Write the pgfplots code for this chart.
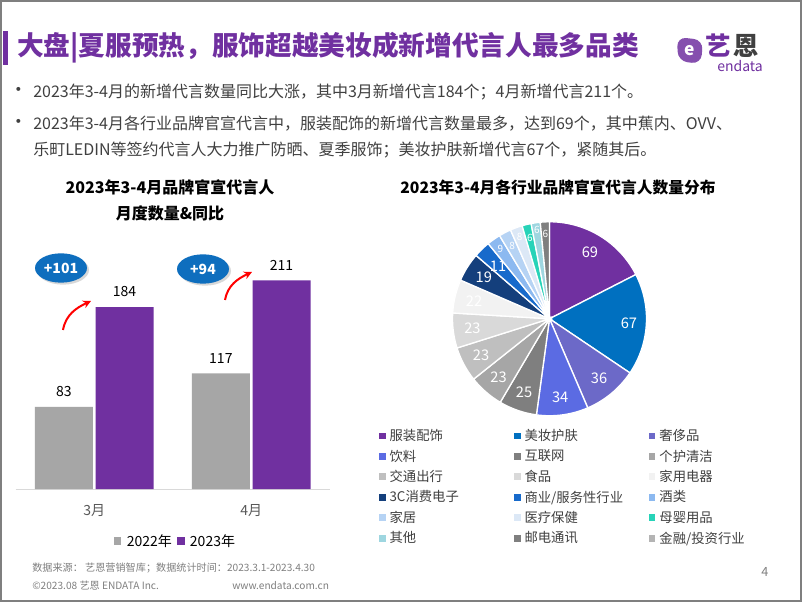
\documentclass[border=0pt]{standalone}
\usepackage{fontspec}
\setmainfont{Noto Sans CJK SC}
\usepackage{pgfplots}
\usepackage{pgfplotstable}
\pgfplotsset{compat=1.18}
\usepgfplotslibrary{polar}
\usetikzlibrary{shadows,arrows.meta,shapes.geometric}

\definecolor{mypurple}{HTML}{7030A0}
\definecolor{bargray}{HTML}{A6A6A6}
\definecolor{txtgray}{HTML}{404040}
\definecolor{ticgray}{HTML}{595959}
\definecolor{footgray}{HTML}{7F7F7F}
\definecolor{ellblue}{HTML}{0E6EBE}
\definecolor{pc0}{HTML}{7030A0}
\definecolor{pc1}{HTML}{0070C0}
\definecolor{pc2}{HTML}{6C69C8}
\definecolor{pc3}{HTML}{5B6BE3}
\definecolor{pc4}{HTML}{7F7F7F}
\definecolor{pc5}{HTML}{A6A6A6}
\definecolor{pc6}{HTML}{BFBFBF}
\definecolor{pc7}{HTML}{D9D9D9}
\definecolor{pc8}{HTML}{F2F2F2}
\definecolor{pc9}{HTML}{143F7C}
\definecolor{pc10}{HTML}{176ACB}
\definecolor{pc11}{HTML}{8CB9F0}
\definecolor{pc12}{HTML}{B6D3F4}
\definecolor{pc13}{HTML}{DCE8F6}
\definecolor{pc14}{HTML}{27D3B8}
\definecolor{pc15}{HTML}{9ED6E0}
\definecolor{pc16}{HTML}{7F7F7F}
\definecolor{pc17}{HTML}{B4B4B4}

% pie data: value, label radius
\pgfplotstableread{
v r
69 0.80
67 0.82
36 0.80
34 0.82
25 0.80
23 0.80
23 0.80
23 0.80
22 0.80
19 0.80
11 0.76
9 0.88
8 0.84
8 0.90
6 0.86
6 0.92
6 0.88
}\pietable

\newcommand{\lgd}[1]{\makebox[90pt][l]{#1}}
\pgfplotsset{
  lab big/.style={draw=none, mark=none, forget plot, nodes near coords, point meta=explicit symbolic,
    every node near coord/.append style={text=white, anchor=center, font=\fontsize{11}{12}\selectfont}},
  lab small/.style={draw=none, mark=none, forget plot, nodes near coords, point meta=explicit symbolic,
    every node near coord/.append style={text=white, anchor=center, inner sep=0pt, font=\fontsize{7.5}{8}\selectfont}},
}

\begin{document}
\begin{tikzpicture}[x=0.75pt,y=0.75pt]
\useasboundingbox (0,0) rectangle (802,602);
\fill[white] (0,0) rectangle (802,602);

% compute pie angles (total 395)
\gdef\acc{0}\gdef\labA{}\gdef\labB{}%
\foreach \i in {0,...,16}{%
  \pgfplotstablegetelem{\i}{v}\of\pietable \edef\vv{\pgfplotsretval}%
  \pgfplotstablegetelem{\i}{r}\of\pietable \edef\rr{\pgfplotsretval}%
  \pgfmathsetmacro\sa{90-\acc/395*360}%
  \pgfmathsetmacro\newacc{\acc+\vv}%
  \pgfmathsetmacro\ea{90-\newacc/395*360}%
  \pgfmathsetmacro\ma{(\sa+\ea)/2}%
  \xdef\acc{\newacc}%
  \expandafter\xdef\csname ps\i\endcsname{\sa}%
  \expandafter\xdef\csname pe\i\endcsname{\ea}%
  \ifnum\i<11 \xdef\labA{\labA (\ma,\rr) [\vv]}\else\xdef\labB{\labB (\ma,\rr) [\vv]}\fi
}

% header
\fill[mypurple] (3,602-31) rectangle (8,602-65);
\node[anchor=west, inner sep=0pt, text=mypurple, font=\fontsize{20}{24}\selectfont\bfseries] at (17,602-48) {大盘|夏服预热，服饰超越美妆成新增代言人最多品类};

% logo
\fill[mypurple!85, rounded corners=7pt] (677,602-37) -- (703,602-40) -- (701,602-64) -- (678,602-61) -- cycle;
\node[text=white, font=\fontsize{13}{13}\selectfont\bfseries] at (690,602-51) {e};
\node[anchor=west, inner sep=0pt, font=\fontsize{19}{19}\selectfont\bfseries] at (705,602-46) {{\color{mypurple}艺}\hspace{2pt}{\color{txtgray}恩}};
\node[anchor=west, inner sep=0pt, text=mypurple, font=\fontsize{10.5}{11}\selectfont] at (717,602-66) {endata};

% bullets
\begin{scope}[every node/.style={anchor=west, inner sep=0pt, text=txtgray, font=\fontsize{12}{14}\selectfont}]
\node[font=\fontsize{14}{14}\selectfont] at (9,602-92) {•};
\node[font=\fontsize{14}{14}\selectfont] at (9,602-124) {•};
\node at (33,602-92) {2023年3-4月的新增代言数量同比大涨，其中3月新增代言184个；4月新增代言211个。};
\node at (33,602-124) {2023年3-4月各行业品牌官宣代言中，服装配饰的新增代言数量最多，达到69个，其中蕉内、OVV、};
\node at (33,602-150) {乐町LEDIN等签约代言人大力推广防晒、夏季服饰；美妆护肤新增代言67个，紧随其后。};
\end{scope}

% chart titles
\node[font=\fontsize{12}{14}\selectfont\bfseries] at (170,602-187) {2023年3-4月品牌官宣代言人};
\node[font=\fontsize{12}{14}\selectfont\bfseries] at (170,602-213) {月度数量\&同比};
\node[font=\fontsize{11.8}{14}\selectfont\bfseries] at (558,602-187) {2023年3-4月各行业品牌官宣代言人数量分布};

% bar chart
\begin{axis}[at={(10,114)}, anchor=south west,
  width=235.5pt, height=185.6pt, scale only axis,
  ybar, bar width=43.5pt, ymin=0, ymax=250, xmin=-0.5, xmax=1.5,
  enlargelimits=false,
  axis y line=none, axis x line*=bottom,
  x axis line style={draw=pc7, line width=0.8pt, -},
  xtick={0,1}, xticklabels={3月,4月}, major tick length=0pt,
  xticklabel style={text=ticgray, font=\fontsize{10.5}{12}\selectfont, yshift=-8pt},
  /pgf/number format/assume math mode=true,
  nodes near coords,
  every node near coord/.append style={text=black, font=\fontsize{10.5}{12}\selectfont, yshift=4pt},
  legend columns=2,
  legend style={draw=none, fill=none, at={(0.51,-0.21)}, anchor=center,
    font=\fontsize{10.5}{12}\selectfont, column sep=2pt, inner sep=0pt},
  legend image code/.code={\fill[#1, draw=none] (0pt,-2.8pt) rectangle (5.6pt,2.8pt);},
  clip=false]
\addplot[fill=bargray, draw=none] coordinates {(0,83) (1,117)};
\addplot[fill=mypurple, draw=none] coordinates {(0,184) (1,211)};
\legend{2022年\hspace{13pt},2023年}
\end{axis}

% annotations
\node[ellipse, fill=ellblue, minimum width=39pt, minimum height=22pt, inner sep=0pt,
  text=white, font=\fontsize{10.5}{12}\selectfont\bfseries,
  drop shadow={opacity=0.3, shadow xshift=1.5pt, shadow yshift=-1.5pt}] at (61,602-268) {+101};
\node[ellipse, fill=ellblue, minimum width=39pt, minimum height=22pt, inner sep=0pt,
  text=white, font=\fontsize{10.5}{12}\selectfont\bfseries,
  drop shadow={opacity=0.3, shadow xshift=1.5pt, shadow yshift=-1.5pt}] at (203,602-269) {+94};
\draw[red, line width=1.5pt, -{Stealth[length=6pt,width=6pt]}] (63,602-330) to[out=80,in=205] (91,602-301);
\draw[red, line width=1.5pt, -{Stealth[length=6pt,width=6pt]}] (225,602-300) to[out=80,in=205] (252,602-272);

% pie chart
\begin{polaraxis}[at={(566.5,292)}, anchor=center,
  width=145.5pt, height=145.5pt, scale only axis,
  xmin=0, xmax=360, ymin=0, ymax=1, hide axis, clip=false,
  legend columns=3,
  legend cell align=left,
  legend style={draw=none, fill=none, at={(-0.382,-0.055)}, anchor=north west,
    font=\fontsize{10}{12}\selectfont, text=txtgray, column sep=1pt, row sep=1.4pt, inner sep=0pt},
  legend image code/.code={\fill[#1, draw=none] (0pt,-2.6pt) rectangle (5.2pt,2.6pt);},
  legend entries={\lgd{服装配饰},\lgd{美妆护肤},\lgd{奢侈品},\lgd{饮料},\lgd{互联网},\lgd{个护清洁},\lgd{交通出行},\lgd{食品},\lgd{家用电器},\lgd{3C消费电子},\lgd{商业/服务性行业},\lgd{酒类},\lgd{家居},\lgd{医疗保健},\lgd{母婴用品},\lgd{其他},\lgd{邮电通讯},\lgd{金融/投资行业}}]
\pgfplotsinvokeforeach{0,...,16}{
  \addplot[fill=pc#1, draw=white, line width=1pt] coordinates {(\csname ps#1\endcsname,1)}
    arc[start angle=\csname ps#1\endcsname, end angle=\csname pe#1\endcsname, radius=72.75pt] -- (axis cs:0,0) -- cycle;
}
\addlegendimage{fill=pc17, draw=none}
\edef\tmp{\noexpand\addplot[lab big] coordinates {\labA};}\tmp
\edef\tmp{\noexpand\addplot[lab small] coordinates {\labB};}\tmp
\end{polaraxis}

% footer
\begin{scope}[every node/.style={anchor=west, inner sep=0pt, text=footgray, font=\fontsize{7.6}{9}\selectfont}]
\node at (32,602-568) {数据来源： 艺恩营销智库；数据统计时间：2023.3.1-2023.4.30};
\node at (32,602-586) {©2023.08 艺恩 ENDATA Inc.};
\node at (232,602-586) {www.endata.com.cn};
\node[font=\fontsize{9.5}{10}\selectfont] at (761,602-572) {4};
\end{scope}

% frame
\draw[footgray, line width=1.2pt] (0.8,0.8) rectangle (801.2,601.2);
\end{tikzpicture}
\end{document}
